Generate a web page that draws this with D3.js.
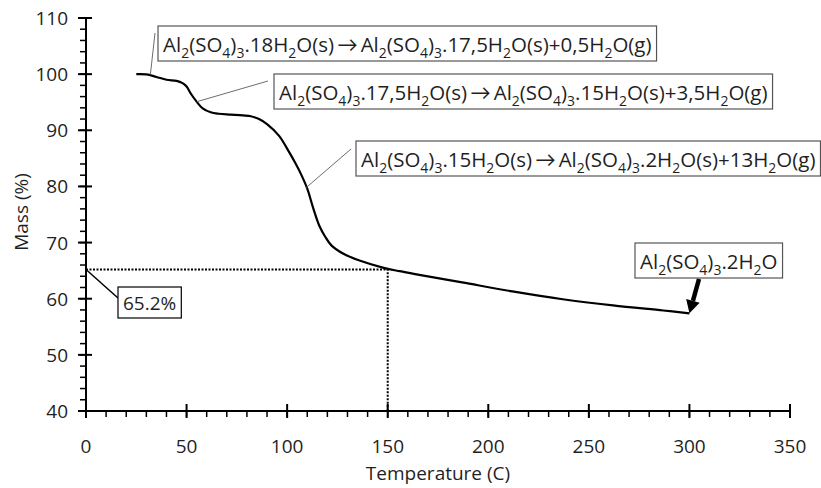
<!DOCTYPE html>
<html>
<head>
<meta charset="utf-8">
<script src="https://cdn.jsdelivr.net/npm/d3@7"></script>
<style>
  body { margin: 0; background: #fff; }
  text { font-family: "Open Sans", Lato, sans-serif; fill: #1f1f1f; }
</style>
</head>
<body>
<div id="chart"></div>
<script>
// TGA curve of Al2(SO4)3.18H2O
const temperature = [25, 30, 35, 40, 45, 48, 50, 52, 55, 58, 62, 66, 72, 78, 82, 86, 90, 96, 101, 104,
  107, 110, 113, 116, 119, 122, 128, 136, 148, 156, 165, 187, 212, 237, 262, 287, 300];
const mass = [100, 99.95, 99.5, 99.0, 98.8, 98.4, 97.8, 96.6, 95.1, 93.9, 93.2, 92.95, 92.8, 92.65, 92.5,
  92.0, 91.1, 89.0, 86.1, 84.2, 82.1, 79.6, 76.1, 73.0, 71.0, 69.5, 68.0, 66.8, 65.5, 64.9, 64.3, 62.9,
  61.3, 59.9, 58.8, 57.9, 57.4];
const xTicks = [0, 50, 100, 150, 200, 250, 300, 350];
const yTicks = [40, 50, 60, 70, 80, 90, 100, 110];
const markT = 150, markMass = 65.2;

// annotation texts, "_n" = subscript
const labels = [
  "Al_2(SO_4)_3.18H_2O(s)→Al_2(SO_4)_3.17,5H_2O(s)+0,5H_2O(g)",
  "Al_2(SO_4)_3.17,5H_2O(s)→Al_2(SO_4)_3.15H_2O(s)+3,5H_2O(g)",
  "Al_2(SO_4)_3.15H_2O(s)→Al_2(SO_4)_3.2H_2O(s)+13H_2O(g)",
  "Al_2(SO_4)_3.2H_2O",
  "65.2%"
];

const W = 821, H = 488;
const FS = 19, NFS = 20.5;
const svg = d3.select("#chart").append("svg").attr("width", W).attr("height", H);

const x = d3.scaleLinear().domain([0, 350]).range([86, 790]);
const y = d3.scaleLinear().domain([40, 110]).range([411, 18]);

// axes
const axG = svg.append("g").attr("stroke", "#000").attr("stroke-width", 2);
axG.append("line").attr("x1", x(0)).attr("x2", x(350)).attr("y1", y(40)).attr("y2", y(40));
axG.append("line").attr("x1", x(0)).attr("x2", x(0)).attr("y1", y(40)).attr("y2", y(110));

axG.selectAll(".xminor").data(d3.range(0, 351, 10)).enter().append("line")
  .attr("x1", d => x(d)).attr("x2", d => x(d))
  .attr("y1", y(40)).attr("y2", y(40) + 6)
  .attr("stroke-width", 1.5);
axG.selectAll(".xmajor").data(xTicks).enter().append("line")
  .attr("x1", d => x(d)).attr("x2", d => x(d))
  .attr("y1", y(40) - 7).attr("y2", y(40) + 7);

axG.selectAll(".yminor").data(d3.range(40, 111, 2)).enter().append("line")
  .attr("y1", d => y(d)).attr("y2", d => y(d))
  .attr("x1", x(0) - 6).attr("x2", x(0))
  .attr("stroke-width", 1.5);
axG.selectAll(".ymajor").data(yTicks).enter().append("line")
  .attr("y1", d => y(d)).attr("y2", d => y(d))
  .attr("x1", x(0) - 8).attr("x2", x(0) + 6);

svg.selectAll(".xlab").data(xTicks).enter().append("text")
  .attr("x", d => x(d)).attr("y", 453).attr("text-anchor", "middle")
  .attr("font-size", FS).text(d => d);
svg.selectAll(".ylab").data(yTicks).enter().append("text")
  .attr("x", 68).attr("y", d => y(d) + 7).attr("text-anchor", "end")
  .attr("font-size", FS).text(d => d);

svg.append("text").attr("x", 438).attr("y", 480).attr("text-anchor", "middle")
  .attr("font-size", FS).text("Temperature (C)");
svg.append("text").attr("transform", `translate(28,212) rotate(-90)`)
  .attr("text-anchor", "middle").attr("font-size", FS).text("Mass (%)");

// dotted guide at 150 C
svg.append("path")
  .attr("d", `M${x(0)},${y(markMass)}H${x(markT)}V${y(40)}`)
  .attr("fill", "none").attr("stroke", "#000").attr("stroke-width", 2)
  .attr("stroke-dasharray", "2,1.5");

// curve
const pts = temperature.map((t, i) => [t, mass[i]]);
svg.append("path").datum(pts)
  .attr("d", d3.line().x(d => x(d[0])).y(d => y(d[1])).curve(d3.curveCatmullRom.alpha(0.5)))
  .attr("fill", "none").attr("stroke", "#000").attr("stroke-width", 2.2);

// annotations: box left, text baseline, leader start (px) -> end (data coords)
const notes = [
  { i: 0, left: 158, base: 52, from: [155, 33], to: [32, 99.9] },
  { i: 1, left: 274, base: 100, from: [268, 81], to: [55.2, 95.1] },
  { i: 2, left: 356, base: 167, from: [351, 149], to: [109.5, 79.8] },
  { i: 3, left: 635, base: 269 },
  { i: 4, left: 118, base: 310, from: [118, 298], to: [0, 65.2] }
];

function formula(sel, str, fs) {
  const parts = str.split(/(_\d|→)/);
  let dy = 0, dx = 0;
  parts.forEach(p => {
    if (!p) return;
    if (p[0] === "_") {
      sel.append("tspan").attr("font-size", fs * 0.68).attr("dy", fs * 0.28 + dy).text(p.slice(1));
      dy = -fs * 0.28;
    } else if (p === "→") {
      sel.append("tspan").attr("dy", dy).attr("dx", 3).text(p);
      dy = 0; dx = 3;
    } else {
      sel.append("tspan").attr("dy", dy).attr("dx", dx).text(p);
      dy = 0; dx = 0;
    }
  });
}

notes.forEach(n => {
  if (n.from) {
    svg.append("line").attr("x1", n.from[0]).attr("y1", n.from[1])
      .attr("x2", x(n.to[0])).attr("y2", y(n.to[1]))
      .attr("stroke", n.i === 4 ? "#000" : "#6d6d6d").attr("stroke-width", n.i === 4 ? 1.5 : 1);
  }
  const fs = n.i === 4 ? FS : NFS;
  const g = svg.append("g");
  const rect = g.append("rect");
  const t = g.append("text").attr("x", n.left + 5).attr("y", n.base).attr("font-size", fs);
  formula(t, labels[n.i], fs);
  const w = t.node().getBBox().width;
  const top = n.i === 4 ? n.base - 23 : n.base - 26;
  const bot = n.i === 4 ? n.base + 8 : n.base + 9;
  rect.attr("x", n.left).attr("y", top).attr("width", w + 10).attr("height", bot - top)
    .attr("fill", "#fff").attr("stroke", n.i === 4 ? "#000" : "#555").attr("stroke-width", 1.2);
});

// bold arrow to the end of the curve
const tip = [x(300), y(57.4)], tail = [699, 279];
const ang = Math.atan2(tip[1] - tail[1], tip[0] - tail[0]);
const headLen = 13, headW = 7;
const bx = tip[0] - headLen * Math.cos(ang), by = tip[1] - headLen * Math.sin(ang);
svg.append("line").attr("x1", tail[0]).attr("y1", tail[1]).attr("x2", bx).attr("y2", by)
  .attr("stroke", "#000").attr("stroke-width", 4.5);
svg.append("path")
  .attr("d", `M${tip[0]},${tip[1]}L${bx + headW * Math.sin(ang)},${by - headW * Math.cos(ang)}L${bx - headW * Math.sin(ang)},${by + headW * Math.cos(ang)}Z`)
  .attr("fill", "#000");
</script>
</body>
</html>
